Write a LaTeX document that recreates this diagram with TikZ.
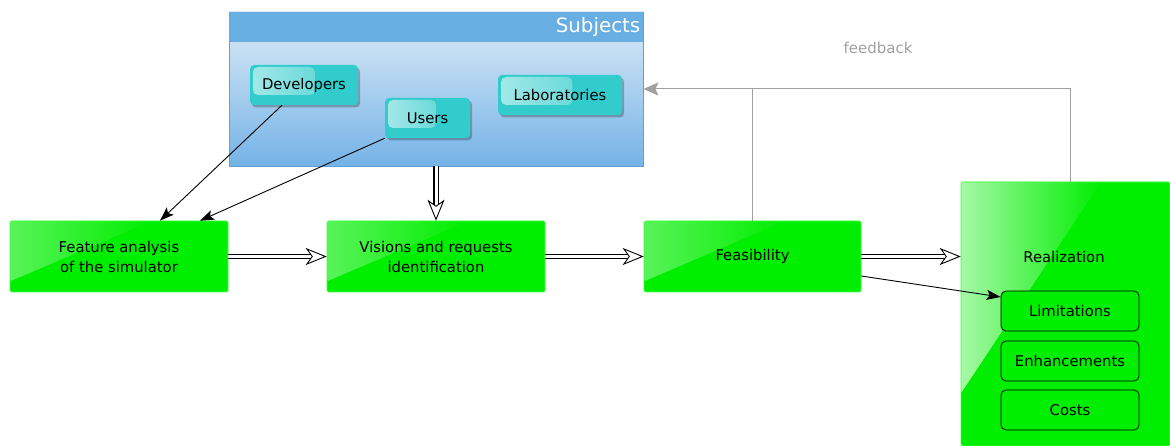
\documentclass[tikz,border=0pt]{standalone}
\usepackage{fontspec}
\setmainfont{DejaVu Sans}
\usetikzlibrary{arrows.meta,shadows,fadings,calc}

\definecolor{hdrblue}{RGB}{103,174,226}
\definecolor{bodytop}{RGB}{223,236,248}
\definecolor{bodybot}{RGB}{116,179,230}
\definecolor{edgeblue}{RGB}{96,160,214}
\definecolor{tealbox}{RGB}{51,204,204}
\definecolor{grn}{RGB}{0,238,0}
\definecolor{grnedge}{RGB}{60,255,60}
\definecolor{fbgray}{RGB}{160,160,160}

\tikzfading[name=glossfade, left color=transparent!0, right color=transparent!100]
\tikzfading[name=softfade, left color=transparent!0, right color=transparent!50]

\tikzset{
  txt/.style={font=\fontsize{14.8}{20}\selectfont},
  stage/.style={txt, draw=grnedge, line width=0.6pt, fill=grn, align=center,
    minimum width=218pt, minimum height=71pt, rounded corners=1.5pt,
    path picture={
      \coordinate (gA) at ($(path picture bounding box.north west)!0.65!(path picture bounding box.north east)$);
      \coordinate (gB) at ($(path picture bounding box.north west)!0.85!(path picture bounding box.south west)$);
      \fill[white, fill opacity=0.35, path fading=glossfade]
        (path picture bounding box.north west) -- (gA) -- (gB) -- cycle;
    }},
  realbox/.style={draw=grnedge, line width=0.6pt, fill=grn,
    minimum width=209pt, minimum height=264pt, rounded corners=1.5pt,
    path picture={
      \coordinate (gA) at ($(path picture bounding box.north west)!0.67!(path picture bounding box.north east)$);
      \coordinate (gB) at ($(path picture bounding box.north west)!0.80!(path picture bounding box.south west)$);
      \fill[white, fill opacity=0.65, path fading=glossfade]
        (path picture bounding box.north west) -- (gA) -- (gB) -- cycle;
    }},
  item/.style={txt, draw=black, line width=0.8pt, fill=grn, rounded corners=5pt,
    minimum width=138pt, minimum height=40pt},
  actor/.style={txt, fill=tealbox, rounded corners=4pt, minimum height=40pt,
    drop shadow={shadow xshift=2pt, shadow yshift=-2.5pt, opacity=0.25, fill=black},
    path picture={
      \coordinate (gA) at ([shift={(3pt,-2pt)}]path picture bounding box.north west);
      \coordinate (gX) at ($(path picture bounding box.north west)!0.6!(path picture bounding box.north east)$);
      \coordinate (gY) at ($(path picture bounding box.north west)!0.75!(path picture bounding box.south west)$);
      \fill[white, fill opacity=0.55, path fading=softfade, rounded corners=5pt]
        (gA) rectangle (gX |- gY);
    }},
  flow/.style={double=white, double distance=3pt, line width=1.1pt,
    -{Stealth[length=21pt, width=17pt, inset=6pt, fill=white, line width=0.9pt]}},
  link/.style={line width=0.9pt, -{Stealth[length=14pt, width=10pt, inset=3pt]}},
  fb/.style={draw=fbgray, line width=1pt},
}

\begin{document}
\begin{tikzpicture}[x=1pt, y=-1pt]
  \useasboundingbox (0,0) rectangle (1170,446);

  % container of the subjects
  \node[draw=edgeblue, line width=0.8pt, top color=bodytop, bottom color=bodybot,
        minimum width=414pt, minimum height=154pt, inner sep=0pt] (subj) at (436,89) {};
  \fill[hdrblue] (subj.north west) rectangle ([yshift=-30pt]subj.north east);
  \node[anchor=east, text=white, font=\fontsize{19.8}{22}\selectfont, inner sep=0pt]
    (subjt) at ([xshift=-3pt, yshift=-15pt]subj.north east) {Subjects};

  \node[actor, minimum width=108pt] (dev) at (304,85) {Developers};
  \node[actor, minimum width=85pt] (users) at (427.5,118) {Users};
  \node[actor, minimum width=124pt] (lab) at (560,95) {Laboratories};

  % process stages
  \node[stage] (fa) at (119,256.5) {Feature analysis\\of the simulator};
  \node[stage] (vis) at (436,256.5) {Visions and requests\\identification};
  \node[stage, minimum width=217pt] (feas) at (752.5,256.5) {Feasibility};
  \node[realbox] (real) at (1065.5,314) {};
  \node[txt, inner sep=0pt] (realt) at (1064,257) {Realization};
  \node[item] (lim) at (1070,311) {Limitations};
  \node[item] (enh) at (1070,361) {Enhancements};
  \node[item] (cost) at (1070,410) {Costs};

  % main flow
  \draw[flow] (fa.east) -- (vis.west);
  \draw[flow] (vis.east) -- (feas.west);
  \draw[flow] (feas.east) -- (feas.east -| real.west);
  \draw[flow] (subj.south) -- (vis.north);

  % inputs of the subjects
  \draw[link] ([xshift=-22pt]dev.south) -- ([xshift=41pt]fa.north);
  \draw[link] (users.south west) -- ([xshift=81pt]fa.north);
  \draw[link] ([yshift=-19.5pt]feas.east) -- ([yshift=14pt]lim.west);

  % feedback loop
  \coordinate (fbR) at (1070,89);
  \draw[fb, -{Stealth[length=15pt, width=13pt, inset=3pt]}]
    (real.north -| fbR) -- (fbR) -- (subj.east);
  \draw[fb] (feas.north) -- (feas.north |- fbR);
  \node[text=fbgray, font=\fontsize{15}{17}\selectfont] (fbt) at (878,48) {feedback};
\end{tikzpicture}
\end{document}
